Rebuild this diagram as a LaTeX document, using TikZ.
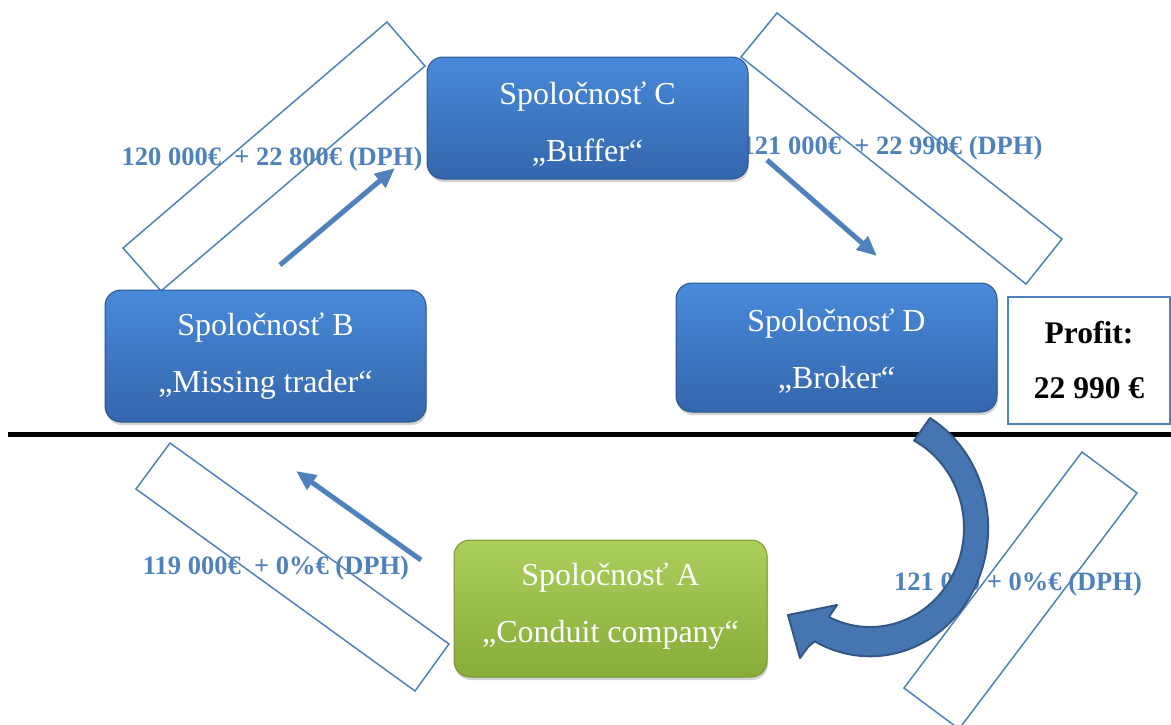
\documentclass[tikz,border=0pt]{standalone}
\usepackage{fontspec}
\setmainfont{Liberation Serif}
\usetikzlibrary{arrows.meta,shadows}
\definecolor{acc}{RGB}{79,129,189}
\definecolor{boxtop}{RGB}{72,138,218}
\definecolor{boxbot}{RGB}{52,102,172}
\definecolor{boxedge}{RGB}{45,85,140}
\definecolor{grtop}{RGB}{172,207,92}
\definecolor{grbot}{RGB}{135,172,58}
\definecolor{gredge}{RGB}{118,150,50}
\definecolor{cafill}{RGB}{70,118,178}
\definecolor{caedge}{RGB}{52,88,134}
\newcommand{\mybxfont}{\fontsize{32}{57}\selectfont}
\newcommand{\mylblfont}{\fontsize{26.5}{30}\selectfont\bfseries}
\newcommand{\myprofont}{\fontsize{31.5}{55}\selectfont\bfseries}
\newcommand{\mytwolines}[3]{\raisebox{#1}[\height][\depth]{\parbox{300pt}{\centering #2\\#3}}}
\begin{document}
\begin{tikzpicture}[x=1pt,y=-1pt,
  company/.style={rounded corners=16pt, draw=boxedge, line width=1pt,
    top color=boxtop, bottom color=boxbot, text=white,
    font=\mybxfont, inner sep=0pt,
    drop shadow={shadow xshift=1pt, shadow yshift=-3pt, opacity=0.35}},
  greencompany/.style={company, draw=gredge, top color=grtop, bottom color=grbot},
  slab/.style={draw=acc, line width=1.5pt},
  amount/.style={text=acc, font=\mylblfont, inner sep=0pt},
  flow/.style={draw=acc, line width=5pt, -{Triangle[length=20pt,width=17pt]}},
  profitbox/.style={draw=acc, line width=1.5pt, fill=white, align=center,
    font=\myprofont, inner sep=0pt, minimum width=162pt, minimum height=127pt}
]
\useasboundingbox (0,0) rectangle (1171,724);
\clip (0,0) rectangle (1171,724);

% rotated outline rectangles
\draw[slab] (387,22) -- (425,66) -- (161,291) -- (123,248) -- cycle;
\draw[slab] (777,13) -- (1062,239) -- (1026,284) -- (741,57) -- cycle;
\draw[slab] (1082,452) -- (1137,493) -- (959,729) -- (904,688) -- cycle;
\draw[slab] (170,443) -- (449,644) -- (415,691) -- (136,489) -- cycle;

% amount labels
\node[amount] (l1) at (272,159) {120 000€ \ + 22 800€ (DPH)};
\node[amount] (l2) at (892,148) {121 000€ \ + 22 990€ (DPH)};
\node[amount] (l3) at (1018,584) {121 000 + 0\%€ (DPH)};
\node[amount] (l4) at (276,568) {119 000€ \ + 0\%€ (DPH)};

% separator line
\coordinate (sepL) at (8,434.5);
\coordinate (sepR) at (1171,434.5);
\draw[line width=5pt, black] (sepL) -- (sepR);

% companies
\node[company, minimum width=321pt, minimum height=122pt] (C) at (587.5,118) {\mytwolines{-6pt}{Spoločnosť C}{„Buffer“}};
\node[company, minimum width=321pt, minimum height=132pt] (B) at (265.5,356) {\mytwolines{0pt}{Spoločnosť B}{„Missing trader“}};
\node[company, minimum width=321pt, minimum height=129pt] (D) at (836.5,347.5) {\mytwolines{-3.5pt}{Spoločnosť D}{„Broker“}};
\node[greencompany, minimum width=313pt, minimum height=137pt] (A) at (610.5,608.5) {\mytwolines{2.5pt}{Spoločnosť A}{„Conduit company“}};
\node[profitbox] (P) at (1089,360.5) {Profit:\\22 990 €};

% straight flow arrows
\coordinate (f1s) at (280,265); \coordinate (f1e) at (395,168);
\coordinate (f2s) at (767,160); \coordinate (f2e) at (877,256);
\coordinate (f3s) at (421,560); \coordinate (f3e) at (296,471);
\draw[flow] (f1s) -- (f1e);
\draw[flow] (f2s) -- (f2e);
\draw[flow] (f3s) -- (f3e);

% curved block arrow from D to A
\filldraw[fill=cafill, draw=caedge, line width=2pt, line join=round]
  (930,418) arc[start angle=-59.5, end angle=118, x radius=118, y radius=128]
  -- (808,647) -- (800,658) -- (788,615) -- (837,605) -- (828.8,617)
  arc[start angle=116, end angle=-62, x radius=94, y radius=99]
  -- cycle;
\end{tikzpicture}
\end{document}
